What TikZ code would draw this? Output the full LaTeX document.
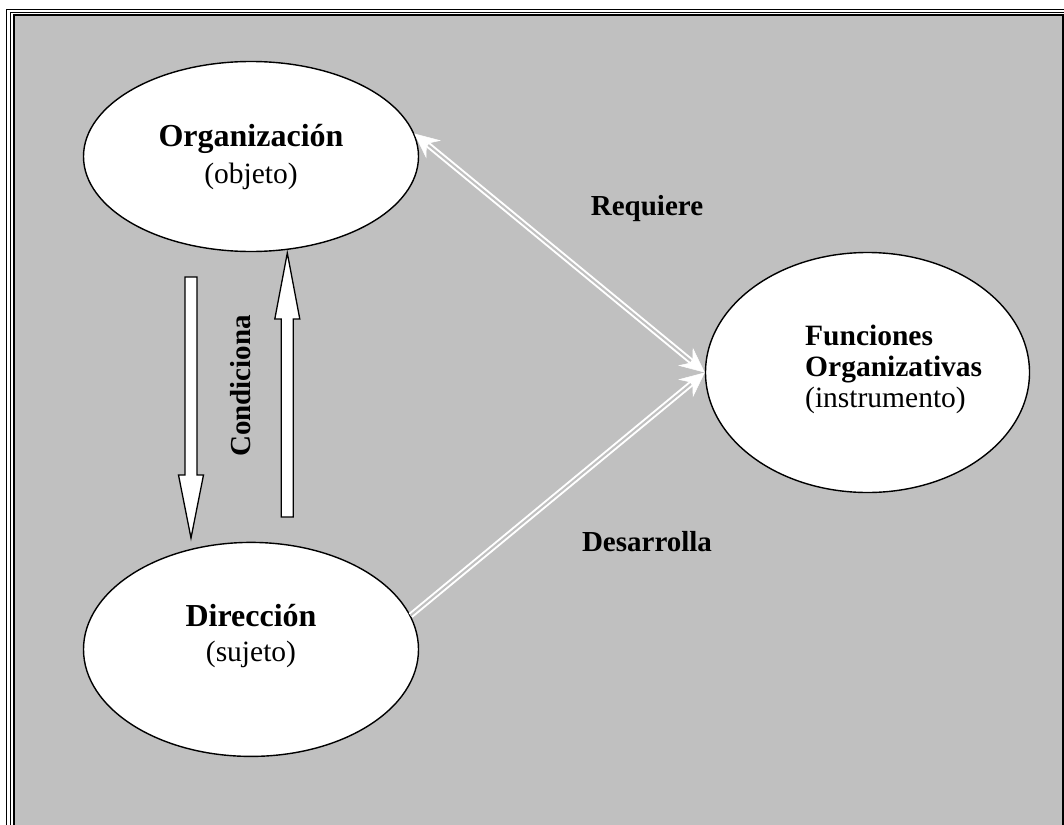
\documentclass[tikz,border=0pt]{standalone}
\usepackage{fontspec}
\setmainfont{Liberation Serif}
\usetikzlibrary{shapes.geometric,arrows.meta}
\definecolor{panel}{HTML}{C0C0C0}
\tikzset{wirehead/.tip={Stealth[length=25pt,width=23pt,inset=9pt,line width=0.5pt]}}
\begin{document}
\begin{tikzpicture}[x=1pt,y=-1pt,
  bubble/.style={ellipse, draw=black, line width=1.4pt, fill=white, inner sep=0pt},
  title/.style={font=\fontsize{32}{37}\selectfont\bfseries, inner sep=0pt},
  role/.style={font=\fontsize{29.5}{34}\selectfont, inner sep=0pt},
  subtitle/.style={font=\fontsize{29.5}{34}\selectfont\bfseries, inner sep=0pt},
  tag/.style={font=\fontsize{29}{34}\selectfont\bfseries, inner sep=0pt},
  blockarrow/.style={draw=black, fill=white, line width=1.3pt, line join=miter},
  wire/.style={draw=white, line width=6pt},
  wiregap/.style={draw=panel, line width=2pt},
]
\useasboundingbox (0,0) rectangle (1064,824);

% triple-ruled frame, running off the right and bottom edges
\begin{scope}
  \clip (0,0) rectangle (1064,824);
  \fill[white] (0,0) rectangle (1064,824);
  \draw[line width=1.2pt] (6.6,9.6) rectangle (1071,840);
  \draw[line width=1pt] (10.2,12.6) rectangle (1067,837);
  \draw[line width=1.8pt, fill=panel] (13.9,15.2) rectangle (1063.2,834);
\end{scope}

% ellipses
\node[bubble, minimum width=335pt, minimum height=190pt] (org) at (251,156.5) {};
\node[bubble, minimum width=335pt, minimum height=214pt] (dir) at (251,649.4) {};
\node[bubble, minimum width=324pt, minimum height=240pt] (fun) at (867.5,372.5) {};

% ellipse texts
\node[title, anchor=base] (orgT) at (251,146.7) {Organización};
\node[role, anchor=base] (orgR) at (251,183) {(objeto)};
\node[title, anchor=base] (dirT) at (251,626.7) {Dirección};
\node[role, anchor=base] (dirR) at (251,661.7) {(sujeto)};
\node[subtitle, anchor=base west] (funT1) at (805,345) {Funciones};
\node[subtitle, anchor=base west] (funT2) at (805,376) {Organizativas};
\node[role, anchor=base west] (funR) at (805,407) {(instrumento)};

% connector labels
\node[tag, anchor=base] (req) at (647,215) {Requiere};
\node[tag, anchor=base] (des) at (647,551.7) {Desarrolla};
\node[tag, anchor=base, rotate=90] (con) at (250,386) {Condiciona};

% double white connectors
\draw[wire, arrows={wirehead-wirehead}] (org.8) -- (fun.west);
\draw[wiregap, shorten <=18pt, shorten >=18pt] (org.8) -- (fun.west);
\draw[wire, arrows={-wirehead}] (dir.12) -- (fun.west);
\draw[wiregap, shorten >=18pt] (dir.12) -- (fun.west);

% block arrows between Organización and Dirección
\draw[blockarrow] (185,277) -- (197,277) -- (197,475) -- (203.5,475)
  -- (191,538) -- (178.5,475) -- (185,475) -- cycle;
\draw[blockarrow] (281.3,517) -- (293.3,517) -- (293.3,319) -- (299.8,319)
  -- (287.3,253) -- (274.8,319) -- (281.3,319) -- cycle;
\end{tikzpicture}
\end{document}
